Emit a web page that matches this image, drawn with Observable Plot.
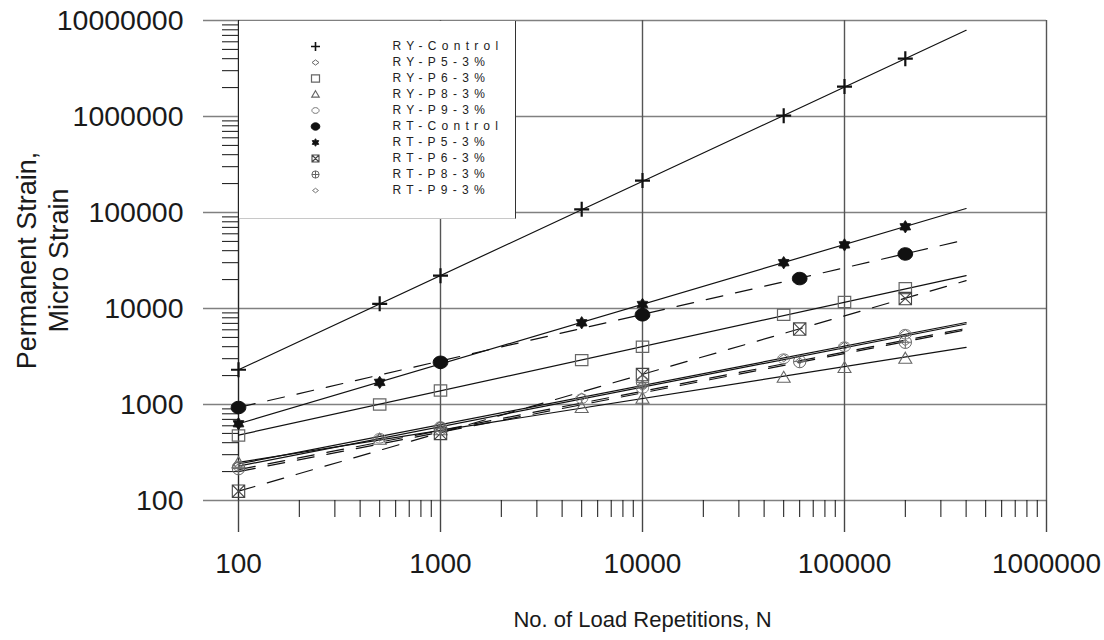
<!DOCTYPE html>
<html><head><meta charset="utf-8">
<script src="https://cdn.jsdelivr.net/npm/d3@7"></script>
<script src="https://cdn.jsdelivr.net/npm/@observablehq/plot@0.6"></script>
<style>
html,body{margin:0;padding:0;background:#fff;}
#wrap{position:relative;width:1104px;height:640px;font-family:"Liberation Sans",Arial,sans-serif;}
#legend{position:absolute;left:239px;top:21px;width:276px;height:197px;background:#fff;border-right:1.5px solid #333;border-bottom:1px solid #c8c8c8;}
#legend svg{display:block;}
</style></head><body><div id="wrap"><div id="chart"></div><div id="legend"></div></div>
<script>
// ---------- data ----------
const seriesNames = ["RY-Control","RY-P5-3%","RY-P6-3%","RY-P8-3%","RY-P9-3%","RT-Control","RT-P5-3%","RT-P6-3%","RT-P8-3%","RT-P9-3%"];
const repsRY = [100, 500, 1000, 5000, 10000, 50000, 100000, 200000];
const repsRT = [100, 1000, 10000, 60000, 200000];
const ryControl = [2300, 11200, 22000, 108000, 215000, 1020000, 2050000, 4000000];
const ryP5 = [235, 455, 610, 1200, 1600, 3050, 4100, 5500];
const ryP6 = [475, 1000, 1400, 2900, 4000, 8600, 11700, 16300];
const ryP8 = [245, 430, 540, 920, 1150, 1900, 2400, 3000];
const ryP9 = [228, 445, 590, 1150, 1470, 3000, 4000, 5400];
const rtControl = [930, 2750, 8600, 20500, 37000];
const rtP5 = [630, 1700, 2700, 7100, 11000, 30000, 46000, 71000];
const rtP6 = [125, 500, 2050, 6100, 12700];
const rtP8 = [215, 560, 1700, 2800, 4450];
const rtP9 = [225, 540, 1500, 2850, 4400];
// power-law trend lines: strain at the first and last repetition count
const fitReps = [100, 400000];
const fitStart = [2300, 240, 480, 250, 228, 930, 630, 125, 210, 200];
const fitEnd = [7900000, 7150, 22000, 3930, 6900, 52000, 110000, 19500, 6200, 6000];
// axis ticks
const xMajor = [100, 1000, 10000, 100000, 1000000];
const yMajor = [100, 1000, 10000, 100000, 1000000, 10000000];
const xTitle = "No. of Load Repetitions, N";
const yTitle = "Permanent Strain,\nMicro Strain";

const xMinor = []; for (let e = 2; e <= 5; e++) for (let m = 2; m < 10; m++) xMinor.push(m * 10 ** e);
const yMinor = []; for (let e = 2; e <= 6; e++) for (let m = 2; m < 10; m++) yMinor.push(m * 10 ** e);

const seriesPoints = [
  [repsRY, ryControl], [repsRY, ryP5], [repsRY, ryP6], [repsRY, ryP8], [repsRY, ryP9],
  [repsRT, rtControl], [repsRY, rtP5], [repsRT, rtP6], [repsRT, rtP8], [repsRT, rtP9]
];
const points = seriesPoints.flatMap(([ns, vs], i) => ns.map((n, j) => ({series: seriesNames[i], N: n, S: vs[j]})));
const fits = seriesNames.flatMap((s, i) => [{series: s, N: fitReps[0], S: fitStart[i]}, {series: s, N: fitReps[1], S: fitEnd[i]}]);

// ---------- custom symbols ----------
const sym = fn => ({draw(ctx, size) { const r = Math.sqrt(size / Math.PI); fn(ctx, r); }});
function ell(ctx, rx, ry) {
  const k = 0.5523;
  ctx.moveTo(rx, 0);
  ctx.bezierCurveTo(rx, ry * k, rx * k, ry, 0, ry);
  ctx.bezierCurveTo(-rx * k, ry, -rx, ry * k, -rx, 0);
  ctx.bezierCurveTo(-rx, -ry * k, -rx * k, -ry, 0, -ry);
  ctx.bezierCurveTo(rx * k, -ry, rx, -ry * k, rx, 0);
  ctx.closePath();
}
const symPlus = sym((c, r) => { c.moveTo(-r, 0); c.lineTo(r, 0); c.moveTo(0, -r); c.lineTo(0, r); });
const symDiamond = sym((c, r) => { c.moveTo(0, -r * 0.75); c.lineTo(r, 0); c.lineTo(0, r * 0.75); c.lineTo(-r, 0); c.closePath(); });
const symSquare = sym((c, r) => { c.rect(-r, -r * 0.9, 2 * r, 1.8 * r); });
const symTriangle = sym((c, r) => { c.moveTo(0, -r); c.lineTo(r, r * 0.7); c.lineTo(-r, r * 0.7); c.closePath(); });
const symEllipse = sym((c, r) => ell(c, r, r * 0.8));
const symBlob = sym((c, r) => ell(c, r * 1.08, r * 0.92));
const symStar = sym((c, r) => {
  for (let i = 0; i < 12; i++) {
    const a = -Math.PI / 2 + i * Math.PI / 6, rr = i % 2 ? r * 0.62 : r;
    i ? c.lineTo(rr * Math.cos(a), rr * Math.sin(a)) : c.moveTo(rr * Math.cos(a), rr * Math.sin(a));
  }
  c.closePath();
});
const symBoxX = sym((c, r) => { c.rect(-r, -r, 2 * r, 2 * r); c.moveTo(-r, -r); c.lineTo(r, r); c.moveTo(r, -r); c.lineTo(-r, r); });
const symCirclePlus = sym((c, r) => { c.moveTo(r, 0); c.arc(0, 0, r, 0, 2 * Math.PI); c.moveTo(-r, 0); c.lineTo(r, 0); c.moveTo(0, -r); c.lineTo(0, r); });

const styles = {
  "RY-Control": {symbol: symPlus, r: 7.5, lr: 4.5, fill: "none", stroke: "#111", sw: 2.2},
  "RY-P5-3%":   {symbol: symDiamond, r: 5, lr: 3.5, fill: "none", stroke: "#666", sw: 1},
  "RY-P6-3%":   {symbol: symSquare, r: 6.2, lr: 4, fill: "none", stroke: "#666", sw: 1.2},
  "RY-P8-3%":   {symbol: symTriangle, r: 6.5, lr: 3.8, fill: "none", stroke: "#666", sw: 1.1},
  "RY-P9-3%":   {symbol: symEllipse, r: 6, lr: 3.6, fill: "none", stroke: "#777", sw: 1},
  "RT-Control": {symbol: symBlob, r: 6.8, lr: 4, fill: "#111", stroke: "#111", sw: 1},
  "RT-P5-3%":   {symbol: symStar, r: 6.2, lr: 3.8, fill: "#111", stroke: "#111", sw: 0.8},
  "RT-P6-3%":   {symbol: symBoxX, r: 6.2, lr: 3.5, fill: "none", stroke: "#444", sw: 1.1},
  "RT-P8-3%":   {symbol: symCirclePlus, r: 6.2, lr: 3.6, fill: "none", stroke: "#666", sw: 1},
  "RT-P9-3%":   {symbol: symDiamond, r: 4, lr: 3, fill: "none", stroke: "#777", sw: 1}
};
const dashedSeries = ["RT-Control", "RT-P6-3%", "RT-P8-3%", "RT-P9-3%"];

const font = "Liberation Sans, Arial, Helvetica, sans-serif";

const marks = [
  Plot.ruleY(yMajor, {stroke: "#808080", strokeWidth: 1.6}),
  Plot.ruleX(xMajor.slice(1), {stroke: "#555", strokeWidth: 1.4}),
  Plot.ruleX([xMajor[0]], {stroke: "#222", strokeWidth: 1.4}),
  Plot.axisY(yMinor, {anchor: "left", tickSize: 16, tickFormat: () => "", stroke: "#111", strokeWidth: 1, label: null}),
  Plot.axisY(yMajor, {anchor: "left", tickSize: 35, tickPadding: 20, tickFormat: d => String(d), stroke: "#808080", strokeWidth: 1.6, fontSize: 28.5, fill: "#1a1a1a", label: null}),
  Plot.axisX(xMinor, {anchor: "bottom", tickSize: 17, tickFormat: () => "", stroke: "#111", strokeWidth: 1, label: null}),
  Plot.axisX(xMajor, {anchor: "bottom", tickSize: 32, tickPadding: 21, tickFormat: d => String(d), stroke: "#444", strokeWidth: 1.4, fontSize: 28, fill: "#1a1a1a", label: null}),
  Plot.text([xTitle], {frameAnchor: "bottom", dy: 126, fontSize: 22, fill: "#1a1a1a"}),
  Plot.text([yTitle], {frameAnchor: "left", textAnchor: "middle", dx: -197, rotate: -90, fontSize: 27, lineHeight: 1.2, fill: "#1a1a1a"})
];
for (const s of seriesNames) {
  const dashed = dashedSeries.includes(s);
  marks.push(Plot.line(fits.filter(d => d.series === s), {x: "N", y: "S", stroke: "#111", strokeWidth: 1.2, strokeDasharray: dashed ? "17,13" : null}));
}
for (const s of seriesNames) {
  const st = styles[s];
  marks.push(Plot.dot(points.filter(d => d.series === s), {x: "N", y: "S", symbol: st.symbol, r: st.r, fill: st.fill, stroke: st.stroke, strokeWidth: st.sw}));
}

const chart = Plot.plot({
  width: 1104, height: 640,
  marginLeft: 238, marginRight: 58, marginTop: 20, marginBottom: 140,
  x: {type: "log", domain: [100, 1000000]},
  y: {type: "log", domain: [100, 10000000]},
  style: {fontFamily: font, background: "#fff", color: "#111", overflow: "visible"},
  marks
});
chart.querySelectorAll("text").forEach(t => { if (!t.textContent.trim()) t.remove(); });
document.getElementById("chart").appendChild(chart);

// legend
const legMarks = [];
for (const s of seriesNames) {
  const st = styles[s];
  legMarks.push(Plot.dot([s], {y: d => d, frameAnchor: "left", dx: 76, symbol: st.symbol, r: st.lr, fill: st.fill, stroke: st.stroke, strokeWidth: Math.min(st.sw, 1.6)}));
}
legMarks.push(Plot.text(seriesNames, {y: d => d, frameAnchor: "left", dx: 153, textAnchor: "start", fontSize: 12, fill: "#222"}));
const legend = Plot.plot({
  width: 276, height: 197, marginTop: 12, marginBottom: 16, marginLeft: 0, marginRight: 0,
  y: {type: "point", domain: seriesNames, axis: null},
  style: {fontFamily: font, background: "#fff", letterSpacing: "5.3px"},
  marks: legMarks
});
document.getElementById("legend").appendChild(legend);
</script></body></html>
